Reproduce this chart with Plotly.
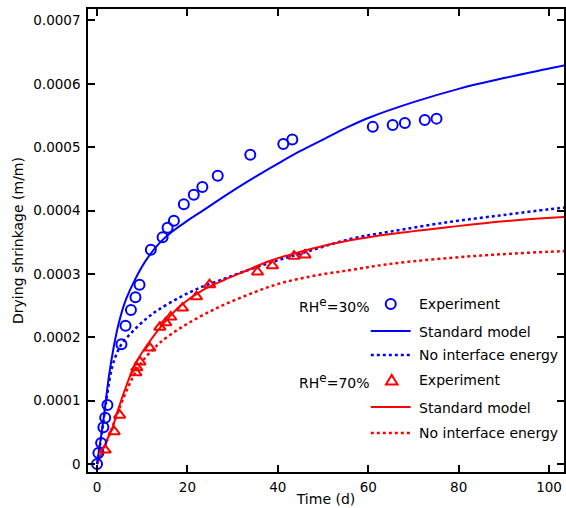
import plotly.graph_objects as go

# ---------------- data ----------------
# RH^e = 30 %  experiment
t_exp30 = [0, 0.3, 0.9, 1.4, 1.8, 2.3, 5.4, 6.3, 7.5, 8.5, 9.4, 11.9, 14.5, 15.6,
           17.0, 19.2, 21.4, 23.3, 26.7, 33.9, 41.2, 43.2, 61.0, 65.4, 68.1, 72.5, 75.1]
s_exp30 = [0, 1.74e-5, 3.3e-5, 5.8e-5, 7.3e-5, 9.3e-5, 1.89e-4, 2.18e-4, 2.43e-4,
           2.63e-4, 2.83e-4, 3.38e-4, 3.58e-4, 3.73e-4, 3.84e-4, 4.10e-4, 4.25e-4,
           4.37e-4, 4.55e-4, 4.88e-4, 5.05e-4, 5.12e-4, 5.32e-4, 5.35e-4, 5.38e-4,
           5.43e-4, 5.45e-4]

# RH^e = 30 %  standard model
t_std30 = [0, 1, 1.5, 2, 2.6, 3.7, 4.8, 6.2, 8.4, 10.6, 13.6, 16.5, 20, 23, 30, 35,
           40, 45, 50, 55, 60, 70, 80, 90, 100, 104]
s_std30 = [0, 4.9e-5, 7.4e-5, 1.03e-4, 1.37e-4, 1.85e-4, 2.22e-4, 2.56e-4, 2.91e-4,
           3.19e-4, 3.47e-4, 3.66e-4, 3.84e-4, 3.98e-4, 4.31e-4, 4.53e-4, 4.74e-4,
           4.94e-4, 5.12e-4, 5.30e-4, 5.46e-4, 5.71e-4, 5.92e-4, 6.09e-4, 6.24e-4,
           6.30e-4]

# RH^e = 30 %  no interface energy
t_noie30 = [0, 1, 2.2, 3.3, 4.4, 5.5, 8, 11, 13.5, 18.3, 23, 28, 31, 38, 45, 56, 65,
            78, 90, 100, 104]
s_noie30 = [0, 4.6e-5, 1.08e-4, 1.52e-4, 1.75e-4, 1.90e-4, 2.10e-4, 2.30e-4, 2.43e-4,
            2.63e-4, 2.79e-4, 2.92e-4, 3.00e-4, 3.17e-4, 3.32e-4, 3.55e-4, 3.67e-4,
            3.82e-4, 3.93e-4, 4.02e-4, 4.05e-4]

# RH^e = 70 %  experiment
t_exp70 = [1.8, 3.8, 5.0, 8.6, 8.8, 9.5, 11.7, 13.9, 15.2, 16.3, 18.9, 22.0, 24.9,
           35.5, 38.8, 43.6, 46.0]
s_exp70 = [2.2e-5, 5.1e-5, 7.7e-5, 1.44e-4, 1.52e-4, 1.61e-4, 1.83e-4, 2.16e-4,
           2.23e-4, 2.32e-4, 2.46e-4, 2.64e-4, 2.83e-4, 3.03e-4, 3.13e-4, 3.28e-4,
           3.30e-4]

# RH^e = 70 %  standard model
t_std70 = [0, 1, 2, 3.3, 4.4, 6.2, 8.4, 11, 14.5, 18.5, 23.3, 28, 33, 38, 45, 50, 56,
           65, 78, 90, 104]
s_std70 = [0, 1.7e-5, 3.5e-5, 5.5e-5, 8.0e-5, 1.18e-4, 1.57e-4, 1.87e-4, 2.20e-4,
           2.50e-4, 2.74e-4, 2.90e-4, 3.05e-4, 3.20e-4, 3.35e-4, 3.44e-4, 3.53e-4,
           3.63e-4, 3.74e-4, 3.83e-4, 3.90e-4]

# RH^e = 70 %  no interface energy
t_noie70 = [0, 2, 4, 6, 8, 10, 12.4, 14, 18.3, 25.6, 33, 40, 48, 56, 63, 70, 78, 85,
            92, 100, 104]
s_noie70 = [0, 3.3e-5, 7.0e-5, 1.07e-4, 1.38e-4, 1.62e-4, 1.81e-4, 1.92e-4, 2.14e-4,
            2.43e-4, 2.66e-4, 2.84e-4, 2.97e-4, 3.06e-4, 3.14e-4, 3.20e-4, 3.25e-4,
            3.29e-4, 3.32e-4, 3.35e-4, 3.36e-4]

x_tickvals = [0, 20, 40, 60, 80, 100]
y_tickvals = [0, 0.0001, 0.0002, 0.0003, 0.0004, 0.0005, 0.0006, 0.0007]
y_ticktext = ["0", "0.0001", "0.0002", "0.0003", "0.0004", "0.0005", "0.0006", "0.0007"]

legend_groups = ["RH<sup><span style='font-size:12px'>e</span></sup>=30%",
                 "RH<sup><span style='font-size:12px'>e</span></sup>=70%"]
legend_items = ["Experiment", "Standard model", "No interface energy"]

BLUE = "#0000ff"
RED = "#ff0000"
FONT = "DejaVu Sans"
DOT = "3px,3px"

fig = go.Figure()


def line(t, s, color, dash):
    fig.add_trace(go.Scatter(x=t, y=s, mode="lines", line_shape="spline",
                             line=dict(color=color, width=2.5 if dash != "solid" else 2,
                                       dash=dash),
                             showlegend=False, hoverinfo="skip"))


line(t_noie30, s_noie30, BLUE, DOT)
line(t_noie70, s_noie70, RED, DOT)
line(t_std70, s_std70, RED, "solid")
line(t_std30, s_std30, BLUE, "solid")

fig.add_trace(go.Scatter(x=t_exp30, y=s_exp30, mode="markers", showlegend=False,
                         marker=dict(symbol="circle-open", size=10, color=BLUE,
                                     line=dict(width=2, color=BLUE))))
fig.add_trace(go.Scatter(x=t_exp70, y=s_exp70, mode="markers", showlegend=False,
                         marker=dict(symbol="triangle-up-open", size=10, color=RED,
                                     line=dict(width=2, color=RED))))

# ---------------- manual legend ----------------
W, H = 478.0, 463.0
L0, T0 = 88.0, 9.0


def px(x):
    return (x - L0) / W


def py(y):
    return (T0 + H - y) / H


shapes = []
annotations = []
LFS = 14

rows = [(304, 331, 355, BLUE, 0), (380, 407, 433, RED, 1)]
for y_exp, y_std, y_noie, color, gi in rows:
    annotations.append(dict(x=px(298), y=py(y_exp + 1), xref="paper", yref="paper",
                            text=legend_groups[gi], showarrow=False, xanchor="left",
                            yanchor="middle", font=dict(family=FONT, size=LFS, color="black")))
    for yy, txt in zip([y_exp, y_std + 1, y_noie], legend_items):
        annotations.append(dict(x=px(418), y=py(yy), xref="paper", yref="paper",
                                text=txt, showarrow=False, xanchor="left",
                                yanchor="middle",
                                font=dict(family=FONT, size=LFS, color="black")))
    shapes.append(dict(type="line", xref="paper", yref="paper", x0=px(372), x1=px(412),
                       y0=py(y_std), y1=py(y_std), line=dict(color=color, width=2)))
    shapes.append(dict(type="line", xref="paper", yref="paper", x0=px(372), x1=px(412),
                       y0=py(y_noie), y1=py(y_noie),
                       line=dict(color=color, width=2.5, dash=DOT)))
    if gi == 0:
        shapes.append(dict(type="circle", xref="paper", yref="paper",
                           xsizemode="pixel", ysizemode="pixel",
                           xanchor=px(392), yanchor=py(y_exp),
                           x0=-5, x1=5, y0=-5, y1=5,
                           line=dict(color=color, width=2)))
    else:
        shapes.append(dict(type="path", xref="paper", yref="paper",
                           xsizemode="pixel", ysizemode="pixel",
                           xanchor=px(393), yanchor=py(y_exp),
                           path="M-5.8,-4.6 L5.8,-4.6 L0,5 Z",
                           line=dict(color=color, width=2)))

axis_common = dict(showline=True, linecolor="black", linewidth=1.5, ticks="inside",
                   ticklen=7, tickwidth=1.5, tickcolor="black", showgrid=False,
                   zeroline=False, mirror="ticks",
                   tickfont=dict(family=FONT, size=13.5, color="black"))

fig.update_layout(
    width=566, height=508,
    margin=dict(l=88, r=0, t=9, b=36),
    paper_bgcolor="white", plot_bgcolor="white",
    font=dict(family=FONT, size=13, color="black"),
    xaxis=dict(range=[-2.0, 103.3], tickvals=x_tickvals, ticklabelstandoff=2,
               title=dict(text="Time (d)", standoff=0,
                          font=dict(family=FONT, size=14, color="black")),
               **axis_common),
    yaxis=dict(range=[-1.26e-5, 7.18e-4], tickvals=y_tickvals, ticktext=y_ticktext,
               ticklabelstandoff=3,
               title=dict(text="Drying shrinkage (m/m)", standoff=6,
                          font=dict(family=FONT, size=14, color="black")),
               **axis_common),
    shapes=shapes, annotations=annotations, showlegend=False,
)

fig.write_html("out.html", config={"displayModeBar": False},
               post_script="document.body.style.margin='0';document.body.style.overflow='hidden';")
